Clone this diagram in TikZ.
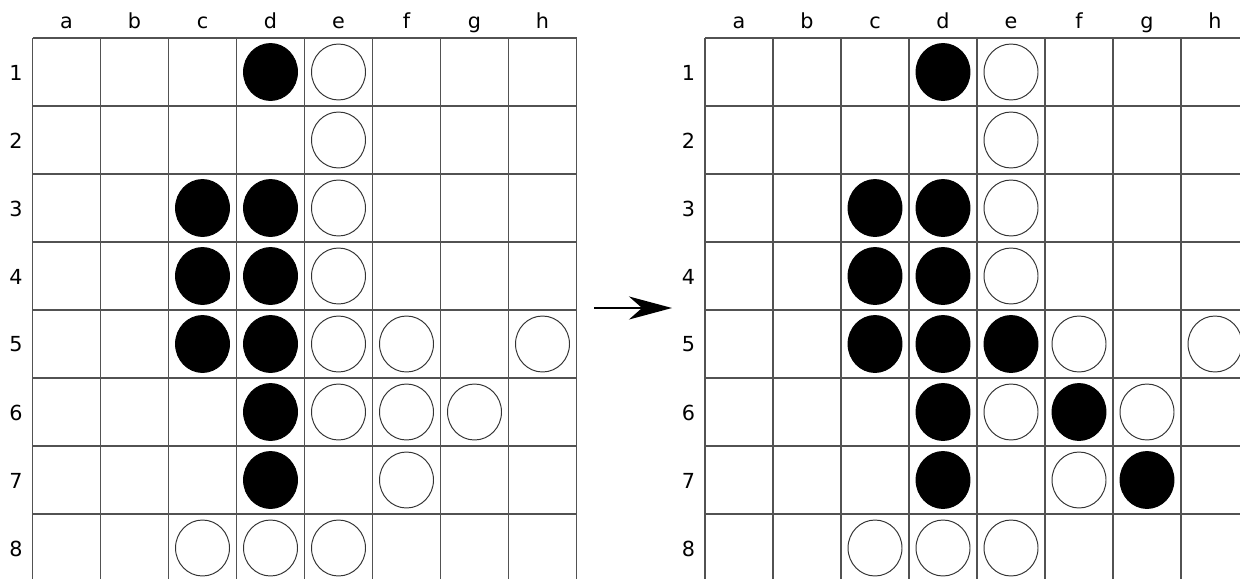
\documentclass[tikz,border=0pt]{standalone}
\usepackage{fontspec}
\setmainfont{DejaVu Sans}
\usetikzlibrary{arrows.meta}

\tikzset{
  gridline/.style={draw=black!68, line width=0.95pt},
  blackdisc/.style={fill=black, draw=black, line width=0.5pt},
  whitedisc/.style={fill=white, draw=black!80, line width=0.55pt},
  lbl/.style={font=\fontsize{11.8}{14}\selectfont, inner sep=0pt},
}

\begin{document}
\begin{tikzpicture}[x=0.02cm, y=-0.02cm]
    \useasboundingbox (0,0) rectangle (1240,578);
    \clip (0,0) rectangle (1240,578);

    % Left board (before)
    \begin{scope}[shift={(32.5,38)}]
        \foreach \i in {0,...,8} {
            \draw[gridline] (\i*68,0) -- (\i*68,544);
            \draw[gridline] (0,\i*68) -- (544,\i*68);
        }
        \foreach \c [count=\i from 0] in {a,...,h}
            \node[lbl, anchor=base] (L-\c) at (\i*68+34,-9) {\c};
        \foreach \r in {1,...,8}
            \node[lbl] (L-\r) at (-16.5,\r*68-33.5) {\r};
        % black discs (column/row)
        \foreach \x/\y in {4/1, 3/3, 4/3, 3/4, 4/4, 3/5, 4/5, 4/6, 4/7}
            \draw[blackdisc] (\x*68-34,\y*68-34) ellipse [x radius=0.54cm, y radius=0.57cm];
        % white discs
        \foreach \x/\y in {5/1, 5/2, 5/3, 5/4, 5/5, 6/5, 8/5, 5/6, 6/6, 7/6, 6/7, 3/8, 4/8, 5/8}
            \draw[whitedisc] (\x*68-34,\y*68-34) ellipse [x radius=0.54cm, y radius=0.56cm];
    \end{scope}

    % Right board (after)
    \begin{scope}[shift={(705,38)}]
        \foreach \i in {0,...,8} {
            \draw[gridline] (\i*68,0) -- (\i*68,544);
            \draw[gridline] (0,\i*68) -- (544,\i*68);
        }
        \foreach \c [count=\i from 0] in {a,...,h}
            \node[lbl, anchor=base] (R-\c) at (\i*68+34,-9) {\c};
        \foreach \r in {1,...,8}
            \node[lbl] (R-\r) at (-16.5,\r*68-33.5) {\r};
        % black discs (column/row)
        \foreach \x/\y in {4/1, 3/3, 4/3, 3/4, 4/4, 3/5, 4/5, 5/5, 4/6, 6/6, 4/7, 7/7}
            \draw[blackdisc] (\x*68-34,\y*68-34) ellipse [x radius=0.54cm, y radius=0.57cm];
        % white discs
        \foreach \x/\y in {5/1, 5/2, 5/3, 5/4, 6/5, 8/5, 5/6, 7/6, 6/7, 3/8, 4/8, 5/8}
            \draw[whitedisc] (\x*68-34,\y*68-34) ellipse [x radius=0.54cm, y radius=0.56cm];
    \end{scope}

    % Move arrow
    \coordinate (arr-s) at (594,308);
    \coordinate (arr-e) at (672,308);
    \draw[line width=1.1pt, -{Stealth[length=0.86cm, width=0.46cm, inset=0.26cm]}] (arr-s) -- (arr-e);
\end{tikzpicture}
\end{document}
